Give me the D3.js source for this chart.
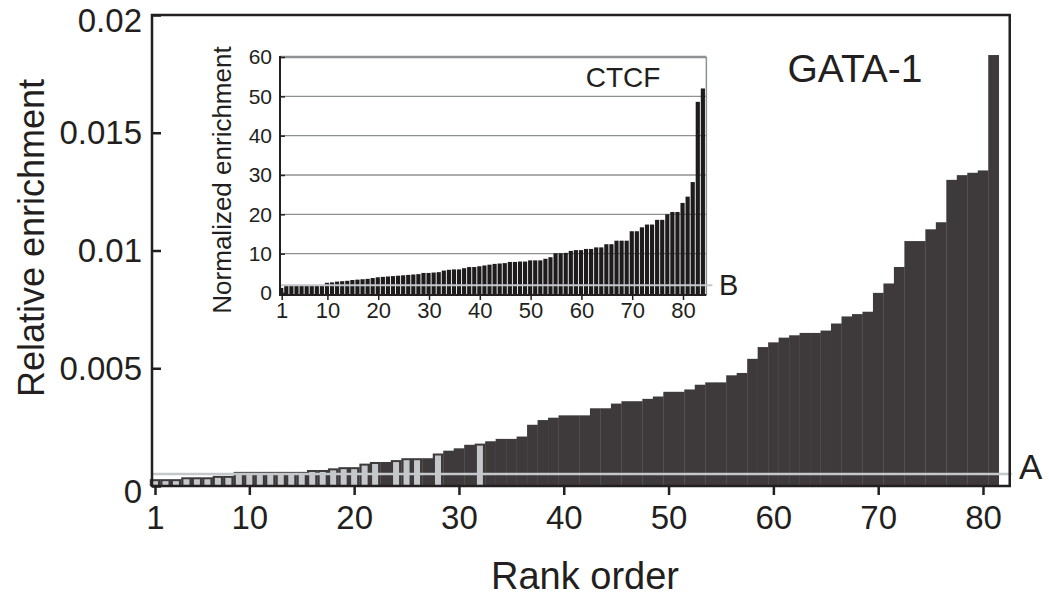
<!DOCTYPE html>
<html>
<head>
<meta charset="utf-8">
<script src="https://cdn.jsdelivr.net/npm/d3@7"></script>
<style>
    body { margin: 0; background: #fff; }
    text { font-family: "Liberation Sans", Arial, Helvetica, sans-serif; fill: #231f20; }
</style>
</head>
<body>
<div class="div-chart"></div>
<script>
// DATA

// GATA-1, relative enrichment by rank order
var gata1Values = [
    0.00029, 0.00029, 0.00029, 0.00037, 0.00037, 0.00037, 0.00043, 0.00043, 0.0006, 0.0006,
    0.0006, 0.0006, 0.0006, 0.0006, 0.0006, 0.00068, 0.00068, 0.00075, 0.0008, 0.0008,
    0.00095, 0.00102, 0.00102, 0.0011, 0.00118, 0.00118, 0.00118, 0.00138, 0.0015, 0.0016,
    0.00175, 0.0018, 0.0019, 0.002, 0.002, 0.0021, 0.0026, 0.0028, 0.0029, 0.003,
    0.003, 0.003, 0.0033, 0.0033, 0.0035, 0.0036, 0.0036, 0.0037, 0.0038, 0.004,
    0.004, 0.0041, 0.0043, 0.0044, 0.0044, 0.0047, 0.0048, 0.0054, 0.0059, 0.0061,
    0.0063, 0.0064, 0.0065, 0.0065, 0.0066, 0.0069, 0.0072, 0.0073, 0.0074, 0.0082,
    0.0086, 0.0093, 0.0104, 0.0104, 0.0109, 0.0112, 0.013, 0.0132, 0.0133, 0.0134,
    0.0183
];
// ranks drawn in light gray
var gata1GrayRanks = [1, 2, 3, 4, 5, 6, 7, 8, 9, 10, 11, 12, 13, 14, 15, 16, 17, 18, 19, 20, 21, 22, 24, 25, 26, 28, 32];
var thresholdA = 0.00051;

// CTCF, normalized enrichment by rank order (inset)
var ctcfValues = [
    1.3, 1.9, 1.9, 1.9, 1.9, 1.9, 1.9, 1.9, 1.9, 2.6,
    2.7, 2.9, 3.0, 3.1, 3.3, 3.4, 3.5, 3.6, 3.8, 4.0,
    4.1, 4.2, 4.3, 4.4, 4.5, 4.6, 4.7, 4.8, 5.1, 5.1,
    5.2, 5.3, 5.7, 5.9, 6.0, 6.0, 6.3, 6.6, 6.6, 6.8,
    7.0, 7.2, 7.4, 7.5, 7.6, 7.9, 7.9, 8.0, 8.0, 8.3,
    8.3, 8.3, 8.7, 9.1, 10.1, 10.1, 10.2, 10.7, 10.9, 10.9,
    11.2, 11.2, 11.6, 11.6, 12.4, 12.4, 13.3, 13.3, 13.3, 15.7,
    15.7, 16.7, 17.4, 17.4, 18.6, 18.6, 20.0, 20.6, 20.6, 22.9,
    24.5, 28.2, 48.6, 52.0
];
var thresholdB = 2.0;

var rankTicks = [1, 10, 20, 30, 40, 50, 60, 70, 80];
var mainYTicks = [0, 0.005, 0.01, 0.015, 0.02];
var mainYTickLabels = ["0", "0.005", "0.01", "0.015", "0.02"];
var insetYTicks = [0, 10, 20, 30, 40, 50, 60];

// VISUALIZATION

var width = 1049;
var height = 603;
var ink = "#231f20";
var barDark = "#3e3a3b";
var lightGray = "#c4c8cb";

var svg = d3.select(".div-chart").append("svg")
    .attr("width", width)
    .attr("height", height);

// ---- main plot
var x = d3.scaleLinear().domain([1, 80]).range([155, 983]);
var y = d3.scaleLinear().domain([0, 0.02]).range([486, 15]);
var mLeft = 152, mRight = x(82.55), mTop = y(0.02), mBottom = y(0);

var gata1 = gata1Values.map((v, i) => ({ rank: i + 1, value: v, gray: gata1GrayRanks.includes(i + 1) }));

svg.append("g").selectAll("rect")
    .data(gata1)
    .join("rect")
    .attr("x", d => x(d.rank - 0.5))
    .attr("y", d => y(d.value))
    .attr("width", d => x(d.rank + 0.5) - x(d.rank - 0.5) + 0.3)
    .attr("height", d => mBottom - y(d.value))
    .attr("fill", barDark);

svg.append("g").selectAll("rect")
    .data(gata1.filter(d => d.gray))
    .join("rect")
    .attr("x", d => x(d.rank) - 3)
    .attr("y", d => y(d.value) + 2)
    .attr("width", 6)
    .attr("height", d => mBottom - y(d.value) - 3)
    .attr("fill", lightGray);

// threshold A
svg.append("line")
    .attr("x1", mLeft).attr("x2", mRight + 2)
    .attr("y1", y(thresholdA)).attr("y2", y(thresholdA))
    .attr("stroke", lightGray).attr("stroke-width", 2.5);
svg.append("text")
    .attr("x", 1019).attr("y", 479)
    .style("font-size", "35px")
    .text("A");

// frame
svg.append("rect")
    .attr("x", mLeft).attr("y", mTop)
    .attr("width", mRight - mLeft).attr("height", mBottom - mTop)
    .attr("fill", "none").attr("stroke", ink).attr("stroke-width", 2.5);

var xAxis = d3.axisBottom(x).tickValues(rankTicks).tickSize(9).tickSizeOuter(0).tickPadding(11);
var gx = svg.append("g")
    .attr("transform", "translate(0," + mBottom + ")")
    .call(xAxis);
gx.select(".domain").remove();
gx.selectAll("line").attr("stroke", ink).attr("stroke-width", 2.5);
gx.selectAll("text").style("font-size", "33px").attr("fill", ink);

var yAxis = d3.axisLeft(y).tickValues(mainYTicks).tickSize(-9).tickSizeOuter(0).tickPadding(10)
    .tickFormat((d, i) => mainYTickLabels[i]);
var gy = svg.append("g")
    .attr("transform", "translate(" + mLeft + ",0)")
    .call(yAxis);
gy.select(".domain").remove();
gy.selectAll("line").attr("stroke", ink).attr("stroke-width", 2.5);
gy.selectAll("text").style("font-size", "33px").attr("fill", ink)
    .attr("dy", d => (d == 0 || d == 0.02) ? "0.5em" : "0.34em");

svg.append("text")
    .attr("x", 585).attr("y", 589)
    .attr("text-anchor", "middle")
    .style("font-size", "38px")
    .text("Rank order");

svg.append("text")
    .attr("transform", "translate(44,238) rotate(-90)")
    .attr("text-anchor", "middle")
    .style("font-size", "36px")
    .text("Relative enrichment");

svg.append("text")
    .attr("x", 855).attr("y", 82)
    .attr("text-anchor", "middle")
    .style("font-size", "39px")
    .text("GATA-1");

// ---- inset
var xi = d3.scaleLinear().domain([1, 80]).range([281.7, 683]);
var yi = d3.scaleLinear().domain([0, 60]).range([293, 57]);
var iLeft = 280, iRight = xi(84.6), iTop = yi(60), iBottom = 295;

svg.append("rect")
    .attr("x", iLeft).attr("y", iTop)
    .attr("width", iRight - iLeft).attr("height", iBottom - iTop)
    .attr("fill", "#fff");

svg.append("g").selectAll("line")
    .data(insetYTicks.filter(t => t > 0))
    .join("line")
    .attr("x1", iLeft).attr("x2", iRight)
    .attr("y1", d => yi(d)).attr("y2", d => yi(d))
    .attr("stroke", "#8e9193")
    .attr("stroke-width", d => d == 60 ? 2.5 : 1.3);

svg.append("line")
    .attr("x1", iRight).attr("x2", iRight)
    .attr("y1", iTop).attr("y2", iBottom)
    .attr("stroke", "#8e9193").attr("stroke-width", 1.5);

var ctcf = ctcfValues.map((v, i) => ({ rank: i + 1, value: v }));
svg.append("g").selectAll("rect")
    .data(ctcf)
    .join("rect")
    .attr("x", d => xi(d.rank - 0.5))
    .attr("y", d => yi(d.value))
    .attr("width", d => xi(d.rank + 0.5) - xi(d.rank - 0.5) - 0.9)
    .attr("height", d => iBottom - yi(d.value))
    .attr("fill", "#1e1b1c");

// threshold B
svg.append("line")
    .attr("x1", iLeft).attr("x2", iRight + 6)
    .attr("y1", yi(thresholdB)).attr("y2", yi(thresholdB))
    .attr("stroke", lightGray).attr("stroke-width", 2);
svg.append("text")
    .attr("x", 719).attr("y", 295)
    .style("font-size", "29px")
    .text("B");

svg.append("line")
    .attr("x1", iLeft).attr("x2", iLeft)
    .attr("y1", iTop - 1).attr("y2", iBottom + 1)
    .attr("stroke", ink).attr("stroke-width", 2);
svg.append("line")
    .attr("x1", iLeft - 1).attr("x2", iRight)
    .attr("y1", iBottom).attr("y2", iBottom)
    .attr("stroke", ink).attr("stroke-width", 2);

var xiAxis = d3.axisBottom(xi).tickValues(rankTicks).tickSize(5).tickSizeOuter(0).tickPadding(2);
var gxi = svg.append("g")
    .attr("transform", "translate(0," + iBottom + ")")
    .call(xiAxis);
gxi.select(".domain").remove();
gxi.selectAll("line").attr("stroke", ink).attr("stroke-width", 1.5);
gxi.selectAll("text").style("font-size", "22px").attr("fill", ink);

var yiAxis = d3.axisLeft(yi).tickValues(insetYTicks).tickSize(-5).tickSizeOuter(0).tickPadding(8);
var gyi = svg.append("g")
    .attr("transform", "translate(" + iLeft + ",0)")
    .call(yiAxis);
gyi.select(".domain").remove();
gyi.selectAll("line").attr("stroke", ink).attr("stroke-width", 1.5);
gyi.selectAll("text").style("font-size", "21px").attr("fill", ink);

svg.append("text")
    .attr("transform", "translate(231,180) rotate(-90)")
    .attr("text-anchor", "middle")
    .style("font-size", "26px")
    .text("Normalized enrichment");

svg.append("text")
    .attr("x", 623).attr("y", 87)
    .attr("text-anchor", "middle")
    .style("font-size", "28px")
    .text("CTCF");
</script>
</body>
</html>
